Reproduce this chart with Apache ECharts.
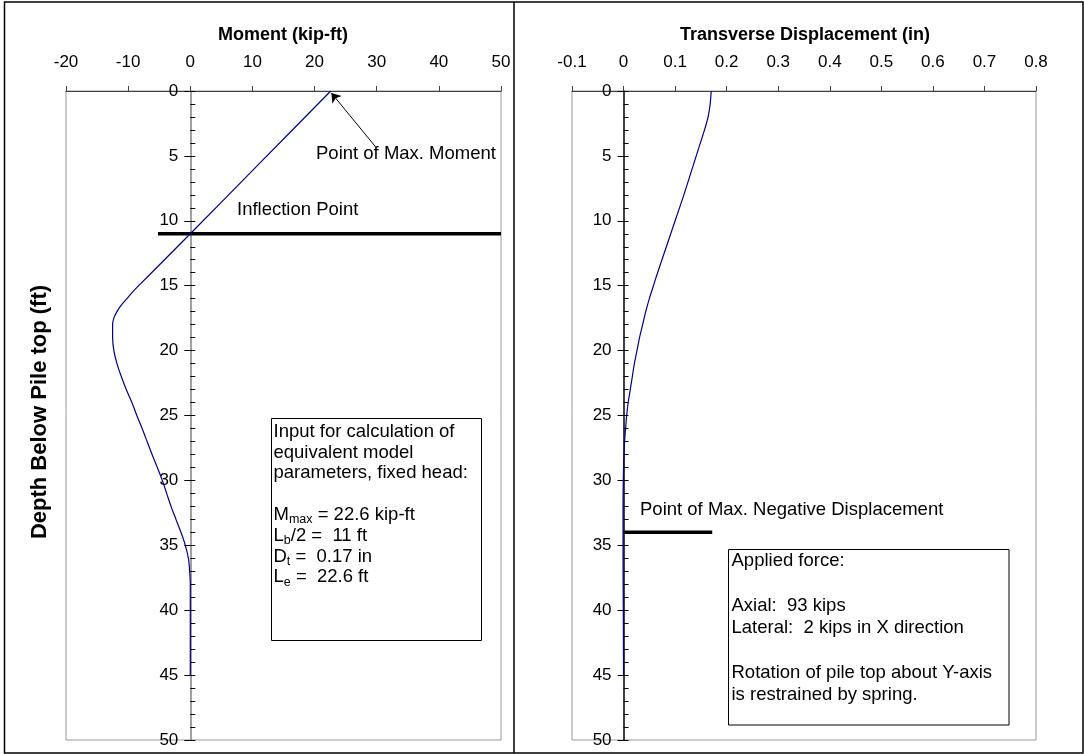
<!DOCTYPE html>
<html><head><meta charset="utf-8">
<script src="https://cdn.jsdelivr.net/npm/echarts@6/dist/echarts.min.js"></script>
<style>html,body{margin:0;padding:0;background:#fff}#c{width:1084px;height:754px}</style>
</head><body><div id="c"></div>
<script>
// ---- data ----
const momentTicks = [-20, -10, 0, 10, 20, 30, 40, 50];
const dispTicks = [-0.1, 0, 0.1, 0.2, 0.3, 0.4, 0.5, 0.6, 0.7, 0.8];
const depthTicks = [0, 5, 10, 15, 20, 25, 30, 35, 40, 45, 50];

const momentDepth = [0, 5.5, 11, 13, 15, 15.5, 16, 16.5, 17, 17.5, 18, 19, 20, 21, 22, 23, 24, 25, 26, 27, 28, 29, 30, 31, 32, 33, 34, 35, 36, 37, 38, 40, 45];
const momentVals  = [22.6, 11.3, 0, -4.15, -8.3, -9.3, -10.2, -11.1, -11.8, -12.3, -12.5, -12.5, -12.3, -11.8, -11.1, -10.3, -9.4, -8.6, -7.75, -6.95, -6.15, -5.3, -4.5, -3.8, -3.1, -2.3, -1.5, -0.8, -0.3, -0.1, 0, 0, 0];

const dispDepth = [0, 1, 2, 3, 4, 5, 6, 7, 8, 10, 12, 14, 15, 16, 17, 18, 19, 20, 21, 22, 23, 24, 25, 26, 27, 28, 29, 30, 32, 34, 36, 40, 45];
const dispVals  = [0.170, 0.168, 0.164, 0.157, 0.149, 0.141, 0.133, 0.125, 0.117, 0.100, 0.083, 0.066, 0.058, 0.050, 0.043, 0.037, 0.031, 0.026, 0.021, 0.017, 0.013, 0.009, 0.006, 0.004, 0.002, 0.001, 0, -0.0005, -0.001, -0.001, -0.001, -0.0005, 0];

const inflectionLine = [[-5.2, 11], [50, 11]];
const maxNegDispLine = [[0, 34], [0.172, 34]];
const maxMomentArrow = [[29.9, 4.35], [22.7, 0.15]];

// ---- chart ----
const FONT = 'Liberation Sans, Arial, Helvetica, sans-serif';
const chart = echarts.init(document.getElementById('c'), null, {renderer: 'canvas'});

const G0 = {left: 66, top: 91, width: 435, height: 649};
const G1 = {left: 572, top: 91, width: 464, height: 649};
// place the depth axis at x = 0 of each panel (derived from the x-axis range)
const zeroOffset = (ticks, g) => -((0 - ticks[0]) / (ticks[ticks.length - 1] - ticks[0])) * g.width;

function xAxisCfg(grid, ticks, fmt) {
  return {
    type: 'value', gridIndex: grid, position: 'top',
    min: ticks[0], max: ticks[ticks.length - 1], interval: +(ticks[1] - ticks[0]).toFixed(6),
    axisLine: {show: true, onZero: false, lineStyle: {color: '#404040', width: 1.2}},
    axisTick: {show: true, length: 5, lineStyle: {color: '#404040', width: 1}},
    axisLabel: {fontFamily: FONT, fontSize: 17, color: '#000', margin: 20, formatter: fmt},
    splitLine: {show: false}
  };
}
function yMain(grid, offset, lineColor) {
  return {
    type: 'value', gridIndex: grid, position: 'left', offset: offset, inverse: true,
    min: depthTicks[0], max: depthTicks[depthTicks.length - 1], interval: depthTicks[1] - depthTicks[0],
    axisLine: {show: true, onZero: false, lineStyle: {color: lineColor, width: 1.5}},
    axisTick: {show: true, length: 6, lineStyle: {color: '#000', width: 1}},
    axisLabel: {fontFamily: FONT, fontSize: 17, color: '#000', margin: 12},
    splitLine: {show: false}
  };
}
function yMinor(grid, offset) {
  return {
    type: 'value', gridIndex: grid, position: 'left', offset: offset, inverse: true,
    min: depthTicks[0], max: depthTicks[depthTicks.length - 1], interval: 1,
    axisLine: {show: false, onZero: false},
    axisTick: {show: true, inside: true, length: 5, lineStyle: {color: '#000', width: 1}},
    axisLabel: {show: false},
    splitLine: {show: false}
  };
}
const FS = 18.5;
function txt(x, y, text, extra) {
  return Object.assign({type: 'text', x: x, y: y, silent: true, z: 50,
    style: Object.assign({text: text, fill: '#000', fontFamily: FONT, fontSize: FS, align: 'left', verticalAlign: 'middle'}, extra || {})});
}
function subTxt(x, y, main, sub, rest) {
  return {type: 'text', x: x, y: y, silent: true, z: 50,
    style: {text: '{n|' + main + '}{s|' + sub + '}{n|' + rest + '}', fill: '#000', align: 'left', verticalAlign: 'middle',
      rich: {
        n: {fontFamily: FONT, fontSize: FS, lineHeight: 20, fill: '#000'},
        s: {fontFamily: FONT, fontSize: 12.5, lineHeight: 12, padding: [10, 0, 0, 0], fill: '#000'}
      }}};
}

const pairs = (xs, ys) => xs.map((v, i) => [v, ys[i]]);

const lh1 = 20.8, top1 = 431.7, bx1 = 273.5;
const lh2 = 22.4, top2 = 561, bx2 = 731.5;
const off0 = zeroOffset(momentTicks, G0);
const off1 = zeroOffset(dispTicks, G1);

const option = {
  animation: false,
  backgroundColor: '#fff',
  grid: [
    Object.assign({show: true, borderColor: '#999', borderWidth: 1, backgroundColor: 'transparent', containLabel: false, outerBoundsMode: 'none'}, G0),
    Object.assign({show: true, borderColor: '#999', borderWidth: 1, backgroundColor: 'transparent', containLabel: false, outerBoundsMode: 'none'}, G1)
  ],
  xAxis: [
    xAxisCfg(0, momentTicks, v => String(Math.round(v))),
    xAxisCfg(1, dispTicks, v => String(+(+v).toFixed(1)))
  ],
  yAxis: [
    yMain(0, off0, '#808080'),
    yMinor(0, off0),
    yMain(1, off1, '#000'),
    yMinor(1, off1)
  ],
  series: [
    {type: 'line', name: 'Moment', xAxisIndex: 0, yAxisIndex: 0, data: pairs(momentVals, momentDepth),
      showSymbol: false, symbol: 'none', smooth: 0.3, lineStyle: {color: '#000080', width: 1.2}, z: 5},
    {type: 'line', name: 'Inflection', xAxisIndex: 0, yAxisIndex: 0, data: inflectionLine,
      showSymbol: false, symbol: 'none', lineStyle: {color: '#000', width: 3.5}, z: 4,
      markLine: {silent: true, symbol: ['none', 'arrow'], symbolSize: 9, label: {show: false},
        lineStyle: {color: '#000', width: 1, type: 'solid'},
        data: [[{coord: maxMomentArrow[0]}, {coord: maxMomentArrow[1]}]]}},
    {type: 'line', name: 'Displacement', xAxisIndex: 1, yAxisIndex: 2, data: pairs(dispVals, dispDepth),
      showSymbol: false, symbol: 'none', smooth: 0.4, lineStyle: {color: '#000080', width: 1.2}, z: 5},
    {type: 'line', name: 'MaxNeg', xAxisIndex: 1, yAxisIndex: 2, data: maxNegDispLine,
      showSymbol: false, symbol: 'none', lineStyle: {color: '#000', width: 3.5}, z: 4}
  ],
  graphic: [
    {type: 'rect', silent: true, z: 60, shape: {x: 4.5, y: 2, width: 1078.5, height: 751}, style: {fill: 'none', stroke: '#000', lineWidth: 1.5}},
    {type: 'line', silent: true, z: 60, shape: {x1: 514, y1: 2, x2: 514, y2: 753}, style: {stroke: '#000', lineWidth: 1.5}},
    txt(283, 35, 'Moment (kip-ft)', {fontWeight: 'bold', align: 'center', fontSize: 18}),
    txt(805, 35, 'Transverse Displacement (in)', {fontWeight: 'bold', align: 'center', fontSize: 18}),
    Object.assign(txt(40, 412, 'Depth Below Pile top (ft)', {fontWeight: 'bold', align: 'center', fontSize: 22}), {rotation: Math.PI / 2}),
    txt(316, 154, 'Point of Max. Moment'),
    txt(237, 210, 'Inflection Point'),
    txt(640, 510, 'Point of Max. Negative Displacement'),
    {type: 'rect', silent: true, z: 40, shape: {x: 271.5, y: 418.5, width: 210, height: 222}, style: {fill: '#fff', stroke: '#000', lineWidth: 1}},
    txt(bx1, top1, 'Input for calculation of'),
    txt(bx1, top1 + lh1, 'equivalent model'),
    txt(bx1, top1 + 2 * lh1, 'parameters, fixed head:'),
    subTxt(bx1, top1 + 4 * lh1, 'M', 'max', ' = 22.6 kip-ft'),
    subTxt(bx1, top1 + 5 * lh1, 'L', 'b', '/2 =  11 ft'),
    subTxt(bx1, top1 + 6 * lh1, 'D', 't', ' =  0.17 in'),
    subTxt(bx1, top1 + 7 * lh1, 'L', 'e', ' =  22.6 ft'),
    {type: 'rect', silent: true, z: 40, shape: {x: 728.5, y: 549.5, width: 280.5, height: 175.5}, style: {fill: '#fff', stroke: '#000', lineWidth: 1}},
    txt(bx2, top2, 'Applied force:'),
    txt(bx2, top2 + 2 * lh2, 'Axial:  93 kips'),
    txt(bx2, top2 + 3 * lh2, 'Lateral:  2 kips in X direction'),
    txt(bx2, top2 + 5 * lh2, 'Rotation of pile top about Y-axis'),
    txt(bx2, top2 + 6 * lh2, 'is restrained by spring.')
  ]
};
chart.setOption(option);
</script>
</body></html>
